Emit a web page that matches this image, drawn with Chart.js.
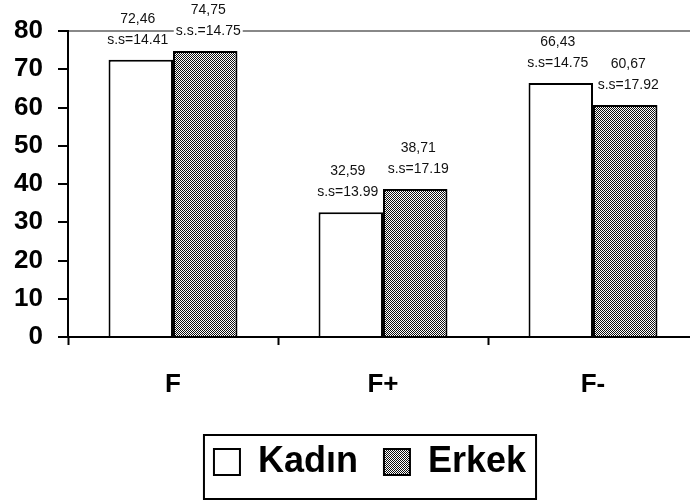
<!DOCTYPE html>
<html>
<head>
<meta charset="utf-8">
<script src="https://cdn.jsdelivr.net/npm/chart.js@4.4.0/dist/chart.umd.min.js"></script>
<style>
  html, body { margin: 0; padding: 0; background: #fff; overflow: hidden; }
</style>
</head>
<body>
<canvas id="myChart" width="700" height="504"></canvas>
<script>
const categories = ['F', 'F+', 'F-'];
const seriesNames = ['Kadın', 'Erkek'];
const kadinValues = [72.46, 32.59, 66.43];
const erkekValues = [74.75, 38.71, 60.67];
const kadinMeanText = ['72,46', '32,59', '66,43'];
const erkekMeanText = ['74,75', '38,71', '60,67'];
const kadinSdText = ['s.s=14.41', 's.s=13.99', 's.s=14.75'];
const erkekSdText = ['s.s.=14.75', 's.s=17.19', 's.s=17.92'];
const yTicks = [0, 10, 20, 30, 40, 50, 60, 70, 80];

const FONT = '"Liberation Sans", Arial, sans-serif';
const LEGEND_SHIFT = 13;

// fine checkerboard fill for the second series
function checker() {
    const c = document.createElement('canvas');
    c.width = 2; c.height = 2;
    const g = c.getContext('2d');
    g.fillStyle = '#fff';
    g.fillRect(0, 0, 2, 2);
    g.fillStyle = '#111';
    g.fillRect(0, 0, 1, 1);
    g.fillRect(1, 1, 1, 1);
    return g.createPattern(c, 'repeat');
}

const labelLines = [
    [kadinMeanText, kadinSdText],
    [erkekMeanText, erkekSdText]
];

const barLabels = {
    id: 'barLabels',
    afterUpdate(chart) {
        // nudge the legend a bit left, like the original
        const lg = chart.legend;
        if (!lg) return;
        lg.left -= LEGEND_SHIFT;
        lg.right -= LEGEND_SHIFT;
        lg.legendHitBoxes.forEach(h => { h.left -= LEGEND_SHIFT; });
    },
    afterDatasetsDraw(chart) {
        const ctx = chart.ctx;
        ctx.save();
        ctx.font = '14px ' + FONT;
        ctx.textAlign = 'center';
        ctx.textBaseline = 'middle';
        // white backgrounds first so no label hides a neighbour
        const items = [];
        chart.data.datasets.forEach((ds, di) => {
            chart.getDatasetMeta(di).data.forEach((bar, i) => {
                const x = bar.x + (di === 0 ? -3 : 3);
                items.push({ t: labelLines[di][0][i], x, y: bar.y - 41 });
                items.push({ t: labelLines[di][1][i], x, y: bar.y - 20 });
            });
        });
        ctx.fillStyle = '#fff';
        items.forEach(it => {
            const w = ctx.measureText(it.t).width;
            ctx.fillRect(it.x - w / 2 - 2, it.y - 7, w + 4, 14);
        });
        ctx.fillStyle = '#111';
        items.forEach(it => ctx.fillText(it.t, it.x, it.y));
        ctx.restore();
    },
    afterDraw(chart) {
        const lg = chart.legend;
        if (!lg || !lg.legendHitBoxes.length) return;
        const hb = lg.legendHitBoxes;
        const left = Math.min(...hb.map(h => h.left)) - 10;
        const right = Math.max(...hb.map(h => h.left + h.width)) + 10;
        const top = Math.min(...hb.map(h => h.top)) - 9;
        const bottom = Math.max(...hb.map(h => h.top + h.height)) + 19;
        const ctx = chart.ctx;
        ctx.save();
        ctx.strokeStyle = '#000';
        ctx.lineWidth = 2;
        ctx.strokeRect(left, top, right - left, bottom - top);
        ctx.restore();
    }
};

new Chart(document.getElementById('myChart'), {
    type: 'bar',
    data: {
        labels: categories,
        datasets: [{
            label: seriesNames[0],
            data: kadinValues,
            backgroundColor: '#fff',
            borderColor: '#000',
            borderWidth: 2
        }, {
            label: seriesNames[1],
            data: erkekValues,
            backgroundColor: checker(),
            borderColor: '#000',
            borderWidth: 2
        }]
    },
    options: {
        responsive: false,
        animation: false,
        layout: { padding: { top: 31, right: 2, left: 0, bottom: 14 } },
        categoryPercentage: 0.614,
        barPercentage: 1,
        plugins: {
            tooltip: { enabled: false },
            legend: {
                position: 'bottom',
                fullSize: false,
                labels: {
                    color: '#000',
                    font: { family: FONT, size: 36, weight: 'bold' },
                    boxWidth: 26,
                    boxHeight: 26,
                    padding: 26
                }
            }
        },
        scales: {
            x: {
                offset: true,
                border: { color: '#000', width: 2 },
                grid: { offset: true, drawOnChartArea: false, tickLength: 8, tickColor: '#000', tickWidth: 2 },
                ticks: { color: '#000', padding: 24, font: { family: FONT, size: 26, weight: 'bold' } },
                afterFit(s) { s.height = 81; }
            },
            y: {
                min: 0,
                max: 80,
                afterBuildTicks(s) { s.ticks = yTicks.map(v => ({ value: v })); },
                border: { color: '#000', width: 2 },
                grid: {
                    color: c => (c.tick && c.tick.value === 80) ? '#888' : 'rgba(0,0,0,0)',
                    lineWidth: 2,
                    tickLength: 10,
                    tickColor: '#000',
                    tickWidth: 2
                },
                ticks: { color: '#000', padding: 15, font: { family: FONT, size: 26, weight: 'bold' } },
                afterFit(s) { s.width = 68; }
            }
        }
    },
    plugins: [barLabels]
});
</script>
</body>
</html>
